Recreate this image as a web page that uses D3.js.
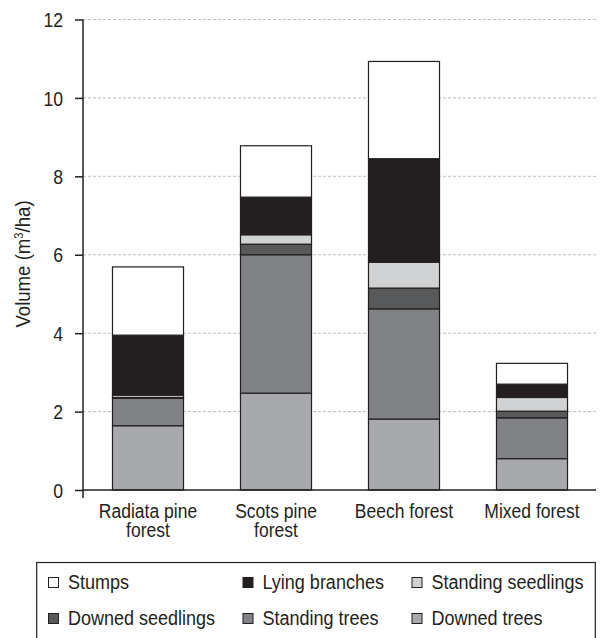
<!DOCTYPE html>
<html><head><meta charset="utf-8">
<script src="https://cdn.jsdelivr.net/npm/d3@7"></script>
<style>
html,body{margin:0;padding:0;background:#fff;}
svg{display:block;}
text{font-family:"Liberation Sans Narrow","Arial Narrow","Liberation Sans",Arial,sans-serif;fill:#231f20;}
</style></head>
<body><svg id="chart" width="600" height="638"></svg>
<script>
const categories = [["Radiata pine","forest"],["Scots pine","forest"],["Beech forest"],["Mixed forest"]];
const seriesNames = ["Downed trees","Standing trees","Downed seedlings","Standing seedlings","Lying branches","Stumps"];
const downedTrees      = [1.64, 2.47, 1.81, 0.80];
const standingTrees    = [0.70, 3.53, 2.81, 1.04];
const downedSeedlings  = [0.02, 0.27, 0.53, 0.17];
const standingSeedlings= [0.06, 0.24, 0.66, 0.35];
const lyingBranches    = [1.53, 0.96, 2.64, 0.34];
const stumps           = [1.74, 1.31, 2.48, 0.53];
const yTicks = [0,2,4,6,8,10,12];
const legendOrder = ["Stumps","Lying branches","Standing seedlings","Downed seedlings","Standing trees","Downed trees"];

const colors = {
  "Stumps":"#ffffff","Lying branches":"#231f20","Standing seedlings":"#d1d2d4",
  "Downed seedlings":"#58595b","Standing trees":"#808285","Downed trees":"#a7a9ac"
};
const seriesVals = [downedTrees,standingTrees,downedSeedlings,standingSeedlings,lyingBranches,stumps];
const table = categories.map((c,i)=>{
  const o={key:c.join(" ")};
  seriesNames.forEach((s,j)=>o[s]=seriesVals[j][i]);
  return o;
});
const stack = d3.stack().keys(seriesNames)(table);

function condense(sel,k){
  sel.each(function(){
    const w=this.getComputedTextLength();
    d3.select(this).attr("textLength",w*k).attr("lengthAdjust","spacingAndGlyphs");
  });
}

const svg = d3.select("#chart");
const FS = 20;
const x = d3.scaleBand().domain(table.map(d=>d.key)).range([84,596]).paddingInner(0.445).paddingOuter(0.2225);
const y = d3.scaleLinear().domain([0,12]).range([490,19.5]);

// gridlines
svg.append("g").selectAll("line").data(yTicks.filter(t=>t>0)).join("line")
  .attr("x1",83).attr("x2",596).attr("y1",d=>y(d)).attr("y2",d=>y(d))
  .attr("stroke","#bcbec0").attr("stroke-width",1).attr("stroke-dasharray","3,2");

// bars
svg.append("g").selectAll("g").data(stack).join("g")
  .attr("fill",d=>colors[d.key])
  .selectAll("rect").data(d=>d).join("rect")
  .attr("x",d=>x(d.data.key)).attr("width",x.bandwidth())
  .attr("y",d=>y(d[1])).attr("height",d=>y(d[0])-y(d[1]))
  .attr("stroke","#231f20").attr("stroke-width",1.2);

// y axis
const yAxis = d3.axisLeft(y).tickValues(yTicks).tickSize(8).tickPadding(12);
const gy = svg.append("g").attr("transform","translate(83,0)").call(yAxis);
gy.select(".domain").attr("d","M0,"+y(12)+"V498").attr("stroke","#231f20").attr("stroke-width",1.5);
gy.selectAll(".tick line").attr("stroke","#231f20").attr("stroke-width",1.5);
gy.selectAll(".tick text").attr("font-size",FS).attr("font-family",null).attr("fill","#231f20").attr("dy","0.36em");
condense(gy.selectAll(".tick text"),0.88);

// x axis
const xAxis = d3.axisBottom(x).tickSize(0).tickFormat("");
const gx = svg.append("g").attr("transform","translate(0,490)").call(xAxis);
gx.select(".domain").attr("d","M83,0H596").attr("stroke","#231f20").attr("stroke-width",1.5);
gx.selectAll(".tick text").remove();
gx.selectAll(".tick").each(function(d,i){
  const g = d3.select(this);
  categories[i].forEach((line,k)=>{
    g.append("text").attr("text-anchor","middle").attr("font-size",FS)
      .attr("x",0).attr("y",27.5+k*19.5).text(line);
  });
});
condense(gx.selectAll(".tick text"),0.875);

// y label
const yl = svg.append("text").attr("transform","translate(30,264) rotate(-90)").attr("text-anchor","middle").attr("font-size",FS);
yl.append("tspan").text("Volume (m");
yl.append("tspan").attr("font-size",12).attr("dy",-7).text("3");
yl.append("tspan").attr("dy",7).text("/ha)");
condense(yl,0.93);

// legend
const lg = svg.append("g");
lg.append("rect").attr("x",36.7).attr("y",562.5).attr("width",558.6).attr("height",100)
  .attr("fill","none").attr("stroke","#231f20").attr("stroke-width",1.2);
const colX = [48,242.5,411.5], rowY=[577.5,613.5];
legendOrder.forEach((name,i)=>{
  const cx = colX[i%3], ry = rowY[Math.floor(i/3)];
  lg.append("rect").attr("x",cx+0.5).attr("y",ry).attr("width",10).attr("height",10)
    .attr("fill",colors[name]).attr("stroke","#231f20").attr("stroke-width",1);
  lg.append("text").attr("class","lt").attr("x",cx+20).attr("y",ry+11).attr("font-size",FS).text(name);
});
condense(lg.selectAll("text.lt"),0.9);
</script></body></html>
